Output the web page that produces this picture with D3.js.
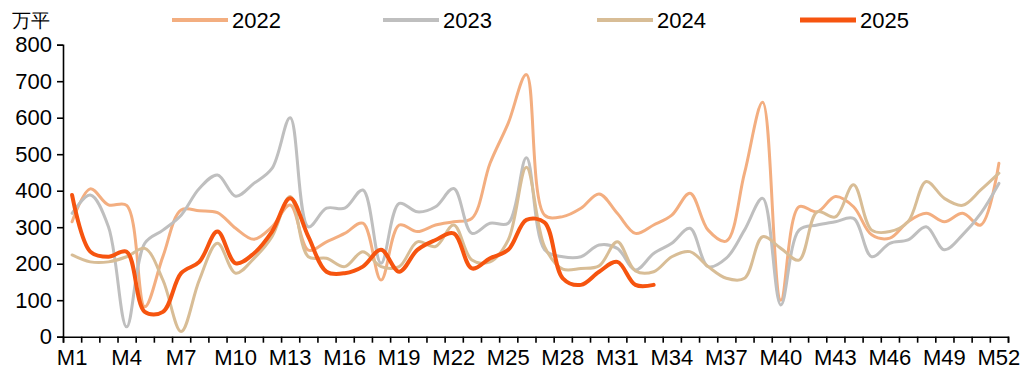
<!DOCTYPE html>
<html><head><meta charset="utf-8">
<script src="https://cdn.jsdelivr.net/npm/d3@7"></script>
<style>
html,body{margin:0;padding:0;background:#fff;}
text{font-family:"Liberation Sans",Arial,sans-serif;}
</style></head>
<body><svg id="c" width="1032" height="374"></svg>
<script>
const categories = d3.range(1, 53).map(i => "M" + i);
const tickLabels = categories.filter((d, i) => i % 3 === 0);
const yTicks = [0,100,200,300,400,500,600,700,800];
const seriesNames = ["2022","2023","2024","2025"];
const s2022 = [315,405,361,360,82,220,347,345,340,297,267,301,361,237,260,283,311,155,306,288,306,315,324,475,585,718,333,329,352,391,338,283,306,333,393,292,262,448,642,100,356,342,384,356,279,270,315,338,315,338,306,475];
const s2023 = [338,388,301,27,256,292,333,406,443,385,420,461,600,301,352,352,402,201,365,342,356,406,283,311,311,490,238,219,219,251,242,183,228,256,297,192,215,292,379,87,292,306,315,324,219,256,265,301,238,279,338,420];
const s2024 = [224,205,205,219,242,155,14,155,256,174,214,274,384,219,215,192,233,192,192,260,247,306,210,205,265,464,247,185,187,194,260,180,178,219,233,192,160,160,274,242,210,342,328,416,292,288,315,425,379,360,402,448];
const s2025 = [388,233,219,233,68,68,174,205,288,201,228,288,379,274,178,174,192,238,178,238,265,283,187,215,238,320,313,160,142,178,205,142,142];
const colors = ["#F3AE80","#BFBFBF","#D8BD96","#F6540F"];
const widths = [3,3,3,4];

const svg = d3.select("#c");
const x0 = 63, x1 = 1008, yTop = 44.7, yBot = 336.7;
const x = d3.scaleBand().domain(categories).range([x0, x1]).paddingInner(0).paddingOuter(0);
const xb = d3.scaleLinear().domain([0, 52]).range([x0, x1]);
const y = d3.scaleLinear().domain([0, 800]).range([yBot, yTop]);
const FS = 22;

// y axis
const ya = svg.append("g").attr("transform", `translate(${x0},0)`)
  .call(d3.axisLeft(y).tickValues(yTicks).tickSize(6).tickPadding(5));
ya.select(".domain").attr("stroke", "#000").attr("stroke-width", 1.6);
ya.selectAll(".tick line").attr("stroke", "#000").attr("stroke-width", 1.6);
ya.selectAll("text").attr("font-size", FS).attr("fill", "#000")
  .attr("font-family", "'Liberation Sans',Arial,sans-serif");

// x axis tick marks
const xt = svg.append("g").attr("transform", `translate(0,${yBot})`)
  .call(d3.axisBottom(xb).tickValues(d3.range(53)).tickSize(6).tickFormat(""));
xt.select(".domain").attr("stroke", "#000").attr("stroke-width", 1.6);
xt.selectAll(".tick line").attr("stroke", "#000").attr("stroke-width", 1.6);
// x labels
const xl = svg.append("g").attr("transform", `translate(0,${yBot})`)
  .call(d3.axisBottom(x).tickValues(tickLabels).tickSize(0).tickPadding(13));
xl.select(".domain").remove();
xl.selectAll("text").attr("font-size", FS).attr("fill", "#000")
  .attr("font-family", "'Liberation Sans',Arial,sans-serif");

// unit
svg.append("text").attr("x", 12).attr("y", 27).attr("font-size", 19)
  .attr("font-family", "'Noto Sans CJK SC',sans-serif").attr("fill", "#000").text("万平");

// lines
const data = [s2022, s2023, s2024, s2025];
const line = d3.line()
  .x((d, i) => x(categories[i]) + x.bandwidth() / 2)
  .y(d => y(d))
  .curve(d3.curveCatmullRom.alpha(0.5));
data.forEach((s, k) => {
  svg.append("path").datum(s).attr("d", line)
    .attr("fill", "none").attr("stroke", colors[k]).attr("stroke-width", widths[k])
    .attr("stroke-linejoin", "round").attr("stroke-linecap", "round");
});

// legend
const legX = [172, 383, 597, 800];
seriesNames.forEach((n, k) => {
  const g = svg.append("g");
  g.append("line").attr("x1", legX[k]).attr("x2", legX[k] + 56).attr("y1", 20).attr("y2", 20)
    .attr("stroke", colors[k]).attr("stroke-width", widths[k] + 1);
  g.append("text").attr("x", legX[k] + 60).attr("y", 28).attr("font-size", FS)
    .attr("fill", "#000").text(n);
});
</script></body></html>
